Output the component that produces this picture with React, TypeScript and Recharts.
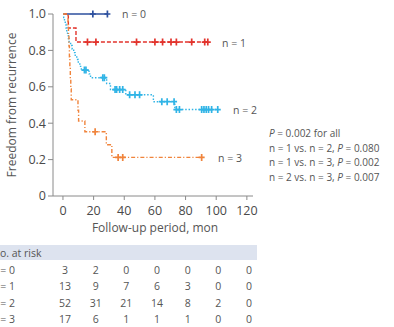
import React from "react";
import { LineChart, Line, XAxis, YAxis } from "recharts";

// Kaplan-Meier steps: event times / survival after the event, censor marks
const n0Times: number[] = [];
const n0Surv: number[] = [];
const n0Censor = [19.5, 29];

const n1Times = [3.5, 8.5];
const n1Surv = [0.923, 0.846];
const n1Censor = [16, 21.5, 48, 60, 65, 70.5, 74, 84, 92.5, 94.5];

const n2Times = [0.5, 1, 1.5, 2, 2.5, 3, 3.5, 4, 5, 6, 7, 8, 9, 10, 11, 12, 17, 18, 28.5, 31, 41, 59, 73];
const n2Surv = [0.981, 0.962, 0.942, 0.923, 0.904, 0.885, 0.865, 0.846, 0.827, 0.808, 0.788, 0.769, 0.75, 0.731, 0.712, 0.692, 0.671, 0.65, 0.618, 0.585, 0.556, 0.518, 0.475];
const n2Censor = [14, 15, 26, 27, 34, 35, 37, 39, 43.5, 47, 50, 64.5, 68, 72.5, 74, 76, 90.5, 92, 93.5, 95, 97, 101];

const n3Times = [3.3, 3.6, 3.9, 4.2, 4.5, 4.8, 5.1, 5.4, 9.8, 10.2, 14.3, 28.3, 31.9];
const n3Surv = [0.941, 0.882, 0.824, 0.765, 0.706, 0.647, 0.588, 0.529, 0.471, 0.412, 0.353, 0.282, 0.212];
const n3Censor = [21, 36, 39, 90.5];

const xTicks = [0, 20, 40, 60, 80, 100, 120];
const yTicks = [0, 0.2, 0.4, 0.6, 0.8, 1.0];

const groupLabels = ["n = 0", "n = 1", "n = 2", "n = 3"];
const atRisk0 = [3, 2, 0, 0, 0, 0, 0];
const atRisk1 = [13, 9, 7, 6, 3, 0, 0];
const atRisk2 = [52, 31, 21, 14, 8, 2, 0];
const atRisk3 = [17, 6, 1, 1, 1, 0, 0];

const pairs = ["", "n = 1 vs. n = 2, ", "n = 1 vs. n = 3, ", "n = 2 vs. n = 3, "];
const pValues = ["0.002 for all", "0.080", "0.002", "0.007"];

const colors = ["#2c4f9e", "#e2332c", "#30b4e6", "#f0843c"];
const FONT = "'Open Sans', sans-serif";

type Pt = { t: number; s: number; censored?: boolean };

function buildSeries(times: number[], surv: number[], censor: number[]): Pt[] {
  const pts: Pt[] = [{ t: 0, s: 1 }];
  times.forEach((t, i) => pts.push({ t, s: surv[i] }));
  censor.forEach((c) => {
    let s = 1;
    times.forEach((t, i) => {
      if (t <= c) s = surv[i];
    });
    pts.push({ t: c, s, censored: true });
  });
  return pts.sort((a, b) => a.t - b.t);
}

const series = [
  buildSeries(n0Times, n0Surv, n0Censor),
  buildSeries(n1Times, n1Surv, n1Censor),
  buildSeries(n2Times, n2Surv, n2Censor),
  buildSeries(n3Times, n3Surv, n3Censor),
];
const dashes = [undefined, "4 2", "1.5 1.8", "4 2 1.2 2"];

const censorDot = (color: string) => (props: any) => {
  const { cx, cy, payload, index } = props;
  if (!payload?.censored || cx == null) return <g key={`c-${index}`} />;
  return (
    <path
      key={`c-${index}`}
      d={`M${cx - 3},${cy}H${cx + 3}M${cx},${cy - 3.5}V${cy + 3.5}`}
      stroke={color}
      strokeWidth={1.7}
      fill="none"
    />
  );
};

// x position of a follow-up month, same as the chart's x scale
const xOf = (t: number) => 63 + (t * 184) / 120;

const Txt = ({ x, y, size = 10.5, children, style }: any) => (
  <div
    style={{
      position: "absolute",
      left: x,
      top: y,
      transform: "translateY(-50%)",
      fontSize: size,
      lineHeight: 1,
      whiteSpace: "nowrap",
      color: "#555",
      ...style,
    }}
  >
    {children}
  </div>
);

export default function App() {
  const rows = [atRisk0, atRisk1, atRisk2, atRisk3];
  return (
    <div style={{ position: "absolute", left: 0, top: 0, width: 394, height: 327, overflow: "hidden", background: "#fff", fontFamily: FONT }}>
      <LineChart width={394} height={240} margin={{ top: 14, right: 141, bottom: 14, left: 8 }}>
        <XAxis
          type="number"
          dataKey="t"
          domain={[-6.5, 124]}
          ticks={xTicks}
          allowDataOverflow
          height={30}
          tickSize={4}
          tickMargin={6}
          stroke="#8a8a8a"
          tick={{ fontSize: 12.5, fill: "#4a4a4a", fontFamily: FONT }}
        />
        <YAxis
          type="number"
          domain={[0, 1]}
          ticks={yTicks}
          width={45}
          tickSize={5}
          tickMargin={2}
          stroke="#8a8a8a"
          tickFormatter={(v: number) => (v === 0 ? "0" : v.toFixed(1))}
          tick={{ fontSize: 12.5, fill: "#4a4a4a", fontFamily: FONT }}
        />
        {series.map((data, i) => (
          <Line
            key={i}
            data={data}
            dataKey="s"
            type="stepAfter"
            stroke={colors[i]}
            strokeWidth={i === 0 ? 1.6 : 1.4}
            strokeDasharray={dashes[i]}
            dot={censorDot(colors[i])}
            activeDot={false}
            isAnimationActive={false}
          />
        ))}
      </LineChart>

      <div
        style={{
          position: "absolute",
          left: 12,
          top: 105,
          transform: "translate(-50%, -50%) rotate(-90deg)",
          fontSize: 12,
          color: "#555",
          whiteSpace: "nowrap",
          lineHeight: 1,
        }}
      >
        Freedom from recurrence
      </div>
      <Txt x={155} y={228} size={12} style={{ transform: "translate(-50%, -50%)" }}>
        Follow-up period, mon
      </Txt>

      <Txt x={122} y={14}>{groupLabels[0]}</Txt>
      <Txt x={222} y={43}>{groupLabels[1]}</Txt>
      <Txt x={233} y={110}>{groupLabels[2]}</Txt>
      <Txt x={218} y={158}>{groupLabels[3]}</Txt>

      {pValues.map((p, i) => (
        <Txt key={i} x={269} y={133 + i * 14.7} size={10}>
          {pairs[i]}
          <i>P</i> = {p}
        </Txt>
      ))}

      <div style={{ position: "absolute", left: 0, top: 245, width: 257, height: 15, background: "#dde3ef" }} />
      <Txt x={-8} y={252.5}>No. at risk</Txt>
      {rows.map((row, r) => (
        <React.Fragment key={r}>
          <Txt x={-9} y={269.5 + r * 16.6}>{groupLabels[r]}</Txt>
          {row.map((v, c) => (
            <Txt key={c} x={xOf(xTicks[c]) + 2} y={269.5 + r * 16.6} style={{ transform: "translate(-50%, -50%)" }}>
              {v}
            </Txt>
          ))}
        </React.Fragment>
      ))}
    </div>
  );
}
